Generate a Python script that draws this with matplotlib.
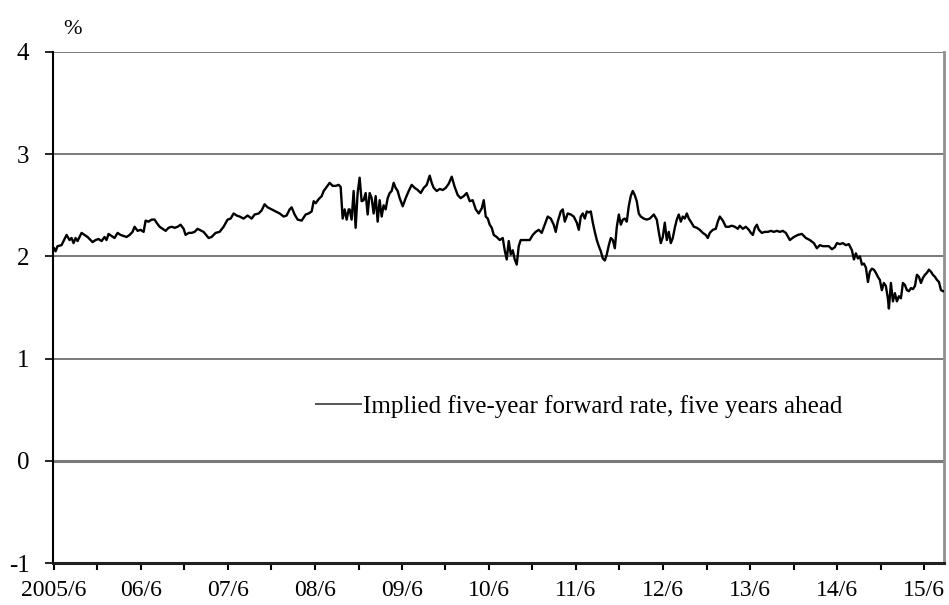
import numpy as np
import pandas as pd
import matplotlib
matplotlib.use("Agg")
import matplotlib.pyplot as plt
import matplotlib.dates as mdates
from matplotlib.ticker import FuncFormatter

plt.rcParams["font.family"] = ["Liberation Serif", "DejaVu Serif"]
plt.rcParams["axes.unicode_minus"] = False

# time axis as decimal years, values in %
years = [
    2005.417, 2005.434, 2005.457, 2005.503, 2005.538, 2005.561, 2005.595, 2005.618, 2005.641, 2005.664,
    2005.687, 2005.710, 2005.733, 2005.768, 2005.802, 2005.837, 2005.860, 2005.894, 2005.928, 2005.963,
    2005.997, 2006.020, 2006.043, 2006.078, 2006.112, 2006.147, 2006.181, 2006.216, 2006.250, 2006.285,
    2006.319, 2006.342, 2006.377, 2006.411, 2006.446, 2006.469, 2006.503, 2006.538, 2006.572, 2006.595,
    2006.630, 2006.664, 2006.699, 2006.733, 2006.768, 2006.802, 2006.837, 2006.871, 2006.906, 2006.928,
    2006.963, 2006.997, 2007.032, 2007.066,
    2007.089, 2007.135, 2007.193, 2007.227, 2007.273, 2007.319, 2007.365, 2007.411, 2007.446, 2007.480,
    2007.515, 2007.549, 2007.595, 2007.641, 2007.687, 2007.722, 2007.768, 2007.802, 2007.836, 2007.871,
    2007.917, 2007.963, 2008.009, 2008.055, 2008.089, 2008.124, 2008.147, 2008.181, 2008.216, 2008.262,
    2008.308, 2008.342, 2008.377, 2008.400, 2008.423, 2008.457, 2008.492, 2008.515, 2008.549, 2008.584,
    2008.618, 2008.653, 2008.687, 2008.710, 2008.733, 2008.756, 2008.779, 2008.802,
    2008.813, 2008.836, 2008.859, 2008.882, 2008.905, 2008.928, 2008.951, 2008.974, 2008.997, 2009.020,
    2009.043, 2009.066, 2009.089, 2009.112, 2009.135, 2009.158, 2009.181, 2009.204, 2009.227, 2009.250,
    2009.273, 2009.296, 2009.319, 2009.342, 2009.365, 2009.388, 2009.423, 2009.457, 2009.492, 2009.526,
    2009.561, 2009.595, 2009.630, 2009.664, 2009.699, 2009.733, 2009.756, 2009.779, 2009.814, 2009.848,
    2009.883, 2009.917, 2009.951, 2009.986, 2010.020, 2010.055, 2010.089, 2010.124, 2010.158, 2010.193,
    2010.227, 2010.262, 2010.296, 2010.331, 2010.354, 2010.377, 2010.400, 2010.423, 2010.446, 2010.469,
    2010.503,
    2010.538, 2010.572, 2010.595, 2010.618, 2010.641, 2010.664, 2010.687, 2010.710, 2010.733, 2010.756,
    2010.779, 2010.813, 2010.848, 2010.882, 2010.917, 2010.951, 2010.986, 2011.020, 2011.055, 2011.089,
    2011.124, 2011.158, 2011.181, 2011.204, 2011.239, 2011.262, 2011.285, 2011.319, 2011.354, 2011.388,
    2011.423, 2011.446, 2011.469, 2011.492, 2011.515, 2011.538, 2011.561, 2011.584, 2011.607, 2011.630,
    2011.653, 2011.676, 2011.699, 2011.722, 2011.745, 2011.768, 2011.791, 2011.814, 2011.837, 2011.860,
    2011.883, 2011.906, 2011.929, 2011.952, 2011.974, 2011.997, 2012.020, 2012.043, 2012.066, 2012.089,
    2012.112, 2012.135, 2012.158, 2012.193, 2012.227,
    2012.262, 2012.308, 2012.342, 2012.365, 2012.388, 2012.411, 2012.434, 2012.457, 2012.480, 2012.503,
    2012.526, 2012.549, 2012.572, 2012.595, 2012.618, 2012.641, 2012.664, 2012.687, 2012.710, 2012.733,
    2012.768, 2012.802, 2012.836, 2012.871, 2012.905, 2012.928, 2012.951, 2012.986, 2013.020, 2013.043,
    2013.066, 2013.101, 2013.135, 2013.170, 2013.204, 2013.239, 2013.273, 2013.296, 2013.331, 2013.365,
    2013.400, 2013.423, 2013.446, 2013.469, 2013.492, 2013.515, 2013.549, 2013.584, 2013.618, 2013.653,
    2013.687, 2013.722, 2013.756, 2013.790, 2013.825,
    2013.871, 2013.917, 2013.963, 2014.009, 2014.055, 2014.101, 2014.147, 2014.181, 2014.216, 2014.250,
    2014.285, 2014.319, 2014.354, 2014.388, 2014.411, 2014.446, 2014.480, 2014.515, 2014.549, 2014.584,
    2014.607, 2014.630, 2014.653, 2014.676, 2014.699, 2014.722, 2014.745, 2014.768, 2014.790, 2014.813,
    2014.836, 2014.859, 2014.882, 2014.905, 2014.928, 2014.951, 2014.974, 2014.997, 2015.009, 2015.032,
    2015.055, 2015.078, 2015.101, 2015.124, 2015.147, 2015.170, 2015.193, 2015.216, 2015.239, 2015.262,
    2015.285, 2015.308, 2015.331, 2015.354, 2015.377, 2015.400, 2015.423, 2015.446, 2015.469, 2015.492,
    2015.515, 2015.538, 2015.561, 2015.584, 2015.607, 2015.630,
]
rate = [
    2.08, 2.05, 2.10, 2.11, 2.17, 2.21, 2.16, 2.18, 2.13, 2.18,
    2.15, 2.19, 2.23, 2.21, 2.19, 2.16, 2.14, 2.16, 2.17, 2.15,
    2.19, 2.16, 2.22, 2.20, 2.18, 2.23, 2.21, 2.20, 2.19, 2.21,
    2.24, 2.29, 2.25, 2.26, 2.24, 2.35, 2.34, 2.36, 2.36, 2.33,
    2.29, 2.27, 2.25, 2.28, 2.29, 2.28, 2.29, 2.31, 2.27, 2.21,
    2.23, 2.23, 2.24, 2.27,
    2.26, 2.24, 2.18, 2.19, 2.23, 2.24, 2.29, 2.36, 2.37, 2.42,
    2.40, 2.39, 2.37, 2.40, 2.37, 2.41, 2.42, 2.45, 2.51, 2.48,
    2.46, 2.44, 2.42, 2.39, 2.40, 2.46, 2.48, 2.41, 2.36, 2.35,
    2.41, 2.42, 2.44, 2.54, 2.52, 2.56, 2.59, 2.64, 2.68, 2.72,
    2.69, 2.69, 2.70, 2.68, 2.37, 2.46, 2.36, 2.46,
    2.46, 2.36, 2.64, 2.28, 2.62, 2.77, 2.54, 2.55, 2.62, 2.41,
    2.62, 2.57, 2.42, 2.59, 2.34, 2.55, 2.39, 2.50, 2.46, 2.57,
    2.62, 2.64, 2.72, 2.67, 2.64, 2.57, 2.49, 2.57, 2.64, 2.70,
    2.67, 2.65, 2.62, 2.67, 2.70, 2.79, 2.72, 2.67, 2.64, 2.66,
    2.65, 2.67, 2.71, 2.78, 2.68, 2.60, 2.57, 2.59, 2.62, 2.54,
    2.55, 2.46, 2.42, 2.47, 2.55, 2.39, 2.37, 2.31, 2.28, 2.21,
    2.19,
    2.16, 2.18, 2.06, 1.97, 2.15, 2.02, 2.06, 1.97, 1.92, 2.10,
    2.16, 2.16, 2.16, 2.16, 2.21, 2.24, 2.26, 2.23, 2.31, 2.39,
    2.37, 2.31, 2.24, 2.34, 2.44, 2.46, 2.34, 2.42, 2.41, 2.39,
    2.33, 2.26, 2.39, 2.42, 2.37, 2.44, 2.43, 2.44, 2.33, 2.24,
    2.16, 2.10, 2.05, 1.98, 1.96, 2.02, 2.11, 2.18, 2.16, 2.08,
    2.29, 2.41, 2.31, 2.36, 2.37, 2.34, 2.49, 2.59, 2.64, 2.60,
    2.54, 2.42, 2.39, 2.37, 2.36,
    2.37, 2.41, 2.36, 2.24, 2.13, 2.19, 2.33, 2.16, 2.24, 2.13,
    2.18, 2.28, 2.36, 2.41, 2.34, 2.39, 2.37, 2.42, 2.37, 2.34,
    2.29, 2.28, 2.26, 2.23, 2.21, 2.18, 2.23, 2.26, 2.27, 2.34,
    2.39, 2.35, 2.29, 2.29, 2.30, 2.29, 2.27, 2.30, 2.27, 2.29,
    2.26, 2.23, 2.21, 2.28, 2.31, 2.26, 2.23, 2.24, 2.24, 2.25,
    2.24, 2.25, 2.24, 2.25, 2.23,
    2.16, 2.19, 2.21, 2.22, 2.18, 2.16, 2.13, 2.08, 2.11, 2.10,
    2.10, 2.10, 2.07, 2.09, 2.13, 2.12, 2.13, 2.11, 2.12, 2.06,
    1.97, 2.03, 1.98, 2.00, 1.92, 1.93, 1.89, 1.75, 1.85, 1.88,
    1.87, 1.84, 1.80, 1.77, 1.67, 1.74, 1.71, 1.59, 1.49, 1.74,
    1.56, 1.64, 1.56, 1.61, 1.59, 1.74, 1.72, 1.67, 1.66, 1.69,
    1.68, 1.71, 1.82, 1.80, 1.74, 1.79, 1.82, 1.84, 1.87, 1.85,
    1.82, 1.80, 1.77, 1.75, 1.67, 1.66,
]
series_label = "Implied five-year forward rate, five years ahead"
y_ticks = [-1, 0, 1, 2, 3, 4]


def to_date(y):
    y = np.asarray(y, dtype=float)
    return pd.Timestamp("2005-01-01") + pd.to_timedelta((y - 2005) * 365.25, unit="D")


dates = to_date(years)

fig = plt.figure(figsize=(9.49, 6.05), dpi=100)
ax = fig.add_axes([53 / 949, 1 - 563 / 605, (944 - 53) / 949, (563 - 52) / 605])

# horizontal grid lines
for v in y_ticks[1:]:
    ax.axhline(v, color="#7a7a7a", lw=2.2 if v == 0 else 1.4, zorder=1)

ax.plot(dates, rate, color="black", lw=1.7, label=series_label, zorder=3)

ax.set_ylim(-1, 4)
ax.set_yticks(y_ticks)
ax.set_xlim(to_date([2005.405, 2015.642]))

ax.xaxis.set_major_locator(mdates.MonthLocator(bymonth=6))
ax.xaxis.set_minor_locator(mdates.MonthLocator(bymonth=12))


def fmt_date(x, pos):
    d = mdates.num2date(x)
    if d.year == 2005:
        return f"{d.year}/{d.month}"
    return f"{d.year % 100:02d}/{d.month}"


ax.xaxis.set_major_formatter(FuncFormatter(fmt_date))

ax.tick_params(axis="x", which="both", direction="out", length=5, width=1.5, color="black",
               labelsize=17, pad=7)
ax.tick_params(axis="y", direction="out", length=6, width=1.2, labelsize=18, pad=11)

ax.spines["top"].set_visible(False)
ax.spines["left"].set_color("black")
ax.spines["left"].set_linewidth(1.5)
ax.spines["bottom"].set_color("#202020")
ax.spines["bottom"].set_linewidth(2.2)
ax.spines["right"].set_color("#909090")
ax.spines["right"].set_linewidth(2.0)

leg = ax.legend(loc="center left", bbox_to_anchor=(0.295, 0.307), frameon=False, fontsize=18,
                handlelength=1.8, handletextpad=0.1, borderpad=0, borderaxespad=0)
leg.get_lines()[0].set_color("#555555")
leg.get_lines()[0].set_linewidth(1.4)

fig.text(73 / 949, 1 - 29 / 605, "%", ha="center", va="center", fontsize=16)

fig.savefig("out.png", dpi=100)
